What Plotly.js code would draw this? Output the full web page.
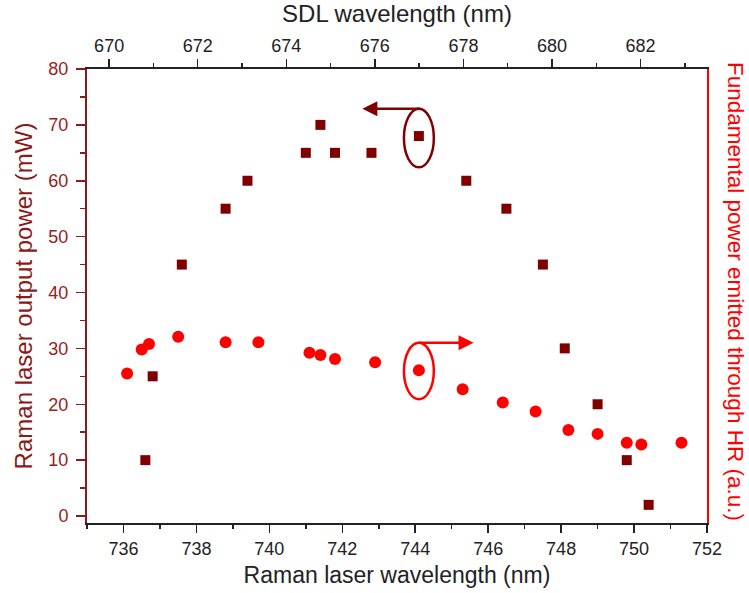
<!DOCTYPE html>
<html>
<head>
<meta charset="utf-8">
<script src="https://cdn.plot.ly/plotly-3.0.1.min.js"></script>
<style>html,body{margin:0;padding:0;background:#fff;}#chart{width:749px;height:593px;}</style>
</head>
<body>
<div id="chart"></div>
<script>
// Raman laser output power (squares, left axis)
const ramanWavelength = [736.6, 736.8, 737.6, 738.8, 739.4, 741.0, 741.4, 741.8, 742.8, 744.1, 745.4, 746.5, 747.5, 748.1, 749.0, 749.8, 750.4];
const ramanPower = [10, 25, 45, 55, 60, 65, 70, 65, 65, 68, 60, 55, 45, 30, 20, 10, 2];
// Fundamental power emitted through HR (circles, right axis, a.u.)
const fundWavelength = [736.1, 736.5, 736.7, 737.5, 738.8, 739.7, 741.1, 741.4, 741.8, 742.9, 744.1, 745.3, 746.4, 747.3, 748.2, 749.0, 749.8, 750.2, 751.3];
const fundPower = [25.5, 29.8, 30.8, 32.1, 31.1, 31.1, 29.2, 28.8, 28.1, 27.5, 26.1, 22.7, 20.3, 18.7, 15.4, 14.7, 13.1, 12.8, 13.1];
// axis ticks
const bottomTicks = [736, 738, 740, 742, 744, 746, 748, 750, 752];
const topTicks = [670, 672, 674, 676, 678, 680, 682];
const leftTicks = [0, 10, 20, 30, 40, 50, 60, 70, 80];

const DARK = '#800000';
const LEFTC = '#8B1A1A';
const RED = '#ff0000';
const FONT = 'Liberation Sans, Arial, sans-serif';

// index of the highlighted point (744.1 nm) in each series, used to place the callouts
const hiR = ramanWavelength.indexOf(744.1);
const hiF = fundWavelength.indexOf(744.1);

const traces = [
  {x: ramanWavelength, y: ramanPower, xaxis: 'x', yaxis: 'y', type: 'scatter', mode: 'markers',
   marker: {symbol: 'square', size: 10, color: DARK}, hoverinfo: 'x+y'},
  {x: fundWavelength, y: fundPower, xaxis: 'x', yaxis: 'y2', type: 'scatter', mode: 'markers',
   marker: {symbol: 'circle', size: 12, color: RED}, hoverinfo: 'x+y'},
  {x: [topTicks[0], topTicks[topTicks.length-1]], y: [null, null], xaxis: 'x2', yaxis: 'y', type: 'scatter', mode: 'markers',
   marker: {opacity: 0}, hoverinfo: 'skip', showlegend: false}
];

const ex = ramanWavelength[hiR], ey = ramanPower[hiR];
const fx = fundWavelength[hiF], fy = fundPower[hiF];

const layout = {
  width: 749, height: 593,
  margin: {l: 87, r: 42, t: 69, b: 70},
  paper_bgcolor: '#fff', plot_bgcolor: '#fff',
  showlegend: false,
  font: {family: FONT, size: 18, color: '#222'},
  xaxis: {
    range: [735, 752], tickvals: bottomTicks, ticks: 'outside', ticklen: 8, tickwidth: 1.5, tickcolor: '#222',
    showline: true, linecolor: '#222', linewidth: 2, showgrid: false, zeroline: false,
    minor: {dtick: 1, tick0: 735, ticks: 'outside', ticklen: 4, tickwidth: 1.5, tickcolor: '#222'},
    tickfont: {size: 18, color: '#222'},
    title: {text: 'Raman laser wavelength (nm)', font: {size: 23, color: '#222'}, standoff: 9}
  },
  xaxis2: {
    overlaying: 'x', side: 'top', anchor: 'y', range: [669.5, 683.5], tickvals: topTicks,
    ticks: 'outside', ticklen: 8, tickwidth: 1.5, tickcolor: '#222',
    showline: true, linecolor: '#222', linewidth: 2, showgrid: false, zeroline: false,
    minor: {dtick: 1, tick0: 669, ticks: 'outside', ticklen: 4, tickwidth: 1.5, tickcolor: '#222'},
    tickfont: {size: 18, color: '#222'},
    title: {text: 'SDL wavelength (nm)', font: {size: 24, color: '#222'}, standoff: 8}
  },
  yaxis: {
    range: [-1.25, 80], tickvals: leftTicks, ticks: 'outside', ticklen: 9, tickwidth: 1.5, tickcolor: LEFTC,
    showline: true, linecolor: LEFTC, linewidth: 2, showgrid: false, zeroline: false,
    minor: {dtick: 5, tick0: 0, ticks: 'outside', ticklen: 5, tickwidth: 1.5, tickcolor: LEFTC},
    tickfont: {size: 18, color: '#9b1c1c'}, ticklabelstandoff: 4,
    title: {text: 'Raman laser output power (mW)', font: {size: 24, color: LEFTC}, standoff: 9}
  },
  yaxis2: {
    overlaying: 'y', side: 'right', anchor: 'x', range: [-1.25, 80],
    showticklabels: false, ticks: '', showline: true, linecolor: RED, linewidth: 2,
    showgrid: false, zeroline: false
  },
  shapes: [
    {type: 'circle', xref: 'x', yref: 'y', x0: ex - 0.41, x1: ex + 0.41, y0: ey - 5.6, y1: ey + 4.9,
     line: {color: DARK, width: 2.5}},
    {type: 'circle', xref: 'x', yref: 'y2', x0: fx - 0.41, x1: fx + 0.41, y0: fy - 5.2, y1: fy + 4.9,
     line: {color: RED, width: 2.5}}
  ],
  annotations: [
    {x: ex - 1.55, y: ey + 4.9, ax: ex + 0.08, ay: ey + 4.9, xref: 'x', yref: 'y', axref: 'x', ayref: 'y',
     text: '', showarrow: true, arrowhead: 2, arrowsize: 1.2, arrowwidth: 2.5, arrowcolor: DARK},
    {x: fx + 1.5, y: fy + 4.9, ax: fx - 0.05, ay: fy + 4.9, xref: 'x', yref: 'y2', axref: 'x', ayref: 'y2',
     text: '', showarrow: true, arrowhead: 2, arrowsize: 1.2, arrowwidth: 2.5, arrowcolor: RED},
    {xref: 'paper', yref: 'paper', x: 1.046, y: 0.51, xanchor: 'center', yanchor: 'middle',
     text: 'Fundamental power emitted through HR (a.u.)', textangle: 90, showarrow: false,
     font: {family: FONT, size: 22.5, color: RED}}
  ]
};

Plotly.newPlot('chart', traces, layout, {displayModeBar: false, staticPlot: true});
</script>
</body>
</html>
